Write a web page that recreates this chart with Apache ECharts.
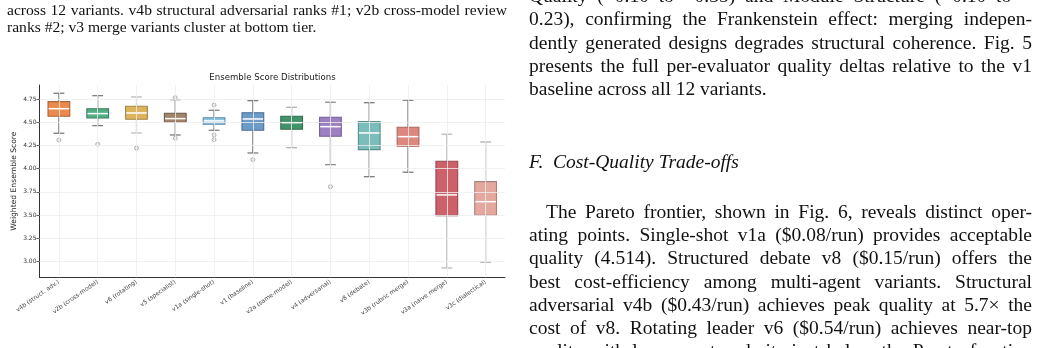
<!DOCTYPE html>
<html><head><meta charset="utf-8">
<script src="https://cdn.jsdelivr.net/npm/echarts@6/dist/echarts.min.js"></script>
<style>
html,body{margin:0;padding:0;background:#fff;width:1041px;height:348px;overflow:hidden;position:relative;}
#chart{position:absolute;left:0;top:0;width:1041px;height:348px;}
.t{position:absolute;font-family:'Liberation Serif','Times New Roman',serif;color:#111;white-space:nowrap;}
</style></head>
<body>
<div id="chart"></div>
<script>
// ---- chart data ----
const categories = ['v4b (struct. adv.)','v2b (cross-model)','v6 (rotating)','v5 (specialist)','v1a (single-shot)','v1 (baseline)','v2a (same-model)','v4 (adversarial)','v8 (debate)','v3b (rubric merge)','v3a (naive merge)','v3c (dialectical)'];
const whiskerLow  = [4.383,4.465,4.386,4.364,4.415,4.170,4.227,4.044,3.914,3.962,2.928,2.990];
const q1Values    = [4.566,4.548,4.534,4.502,4.480,4.415,4.426,4.350,4.206,4.242,3.493,3.497];
const medianValues= [4.648,4.595,4.602,4.541,4.516,4.537,4.497,4.454,4.386,4.346,3.717,3.644];
const q3Values    = [4.724,4.648,4.674,4.599,4.551,4.605,4.566,4.556,4.508,4.448,4.080,3.860];
const whiskerHigh = [4.815,4.789,4.775,4.746,4.631,4.735,4.663,4.718,4.713,4.739,4.372,4.289];
const outlierCategory = [0,1,2,3,3,4,4,4,5,7];
const outlierValue    = [4.310,4.264,4.221,4.767,4.329,4.688,4.364,4.314,4.098,3.806];
const yTicks = [3.00,3.25,3.50,3.75,4.00,4.25,4.50,4.75];
const chartTitle = 'Ensemble Score Distributions';
const yAxisTitle = 'Weighted Ensemble Score';

// ---- styles ----
const fillColors   = ['#EC8A4C','#52AE83','#DDB45C','#A2846A','#8FC3E4','#6D9BC7','#43936A','#9C80C1','#7BBDBB','#DE877F','#CC6169','#E4A89E'];
const borderColors = ['#A8643A','#3E7D60','#A38645','#6F5A48','#5F8CAE','#4B6E93','#326D4F','#75609A','#5A8E8C','#A96560','#98474E','#A98077'];
const whiskerColors= ['#7c7c7c','#808080','#bdbdbd','#7c7c7c','#808080','#7c7c7c','#b0b0b0','#8a8a8a','#7c7c7c','#7c7c7c','#bbbbbb','#b0b0b0'];

const chart = echarts.init(document.getElementById('chart'), null, {renderer:'canvas'});
const boxData = categories.map((c,i)=>[i, whiskerLow[i], q1Values[i], medianValues[i], q3Values[i], whiskerHigh[i]]);
const gridLines = yTicks.map(v=>({yAxis:v})).concat(categories.map(c=>({xAxis:c})));

chart.setOption({
  animation:false,
  graphic:[{type:'text', x:272.5, y:77.5, style:{text:chartTitle, align:'center', verticalAlign:'middle', fontSize:8.6, fontFamily:'DejaVu Sans', fill:'#222'}}],
  grid:{left:39.5, right:536, top:85, bottom:70.7},
  xAxis:{type:'category', data:categories,
    axisLine:{lineStyle:{color:'#333', width:1}},
    axisTick:{alignWithLabel:true, length:3, lineStyle:{color:'#333', width:0.8}},
    axisLabel:{rotate:35, fontSize:6, color:'#444', margin:4, fontFamily:'DejaVu Sans', interval:0},
    splitLine:{show:false}},
  yAxis:{type:'value', min:2.827, max:4.904,
    axisLine:{show:true, lineStyle:{color:'#333', width:1}},
    axisTick:{show:true, length:3, customValues:yTicks, lineStyle:{color:'#333', width:0.8}},
    axisLabel:{customValues:yTicks, formatter:v=>v.toFixed(2), fontSize:6, color:'#333', margin:3, fontFamily:'DejaVu Sans'},
    splitLine:{show:false},
    name:yAxisTitle, nameLocation:'middle', nameGap:21,
    nameTextStyle:{fontSize:7.6, color:'#222', fontFamily:'DejaVu Sans'}},
  series:[
    {type:'scatter', data:[], z:1, silent:true,
     markLine:{silent:true, symbol:['none','none'], label:{show:false}, animation:false,
       lineStyle:{color:'#ededed', width:0.8, type:'solid'}, data:gridLines}},
    {type:'custom', z:2, data:boxData, encode:{x:0, y:[1,2,3,4,5]},
     renderItem:function(params, api){
       const i = api.value(0);
       const band = api.size([1,0])[0];
       const bw = band*0.56, cw = band*0.28;
       const pLo = api.coord([i, api.value(1)]);
       const pQ1 = api.coord([i, api.value(2)]);
       const pMd = api.coord([i, api.value(3)]);
       const pQ3 = api.coord([i, api.value(4)]);
       const pHi = api.coord([i, api.value(5)]);
       const x = pMd[0];
       const wc = whiskerColors[i];
       const ws = {stroke:wc, lineWidth:1.3};
       return {type:'group', children:[
         {type:'line', shape:{x1:x, y1:pQ3[1], x2:x, y2:pHi[1]}, style:ws},
         {type:'line', shape:{x1:x, y1:pQ1[1], x2:x, y2:pLo[1]}, style:ws},
         {type:'line', shape:{x1:x-cw/2, y1:pHi[1], x2:x+cw/2, y2:pHi[1]}, style:ws},
         {type:'line', shape:{x1:x-cw/2, y1:pLo[1], x2:x+cw/2, y2:pLo[1]}, style:ws},
         {type:'rect', shape:{x:x-bw/2, y:pQ3[1], width:bw, height:pQ1[1]-pQ3[1]},
          style:{fill:fillColors[i], stroke:borderColors[i], lineWidth:1.1}},
         {type:'line', shape:{x1:x-bw/2+0.6, y1:pMd[1], x2:x+bw/2-0.6, y2:pMd[1]}, style:{stroke:'#ffffff', lineWidth:1.5}}
       ]};
     }},
    {type:'scatter', z:3, symbol:'circle', symbolSize:4,
     data:outlierCategory.map((c,k)=>[c, outlierValue[k]]),
     itemStyle:{color:'rgba(210,210,210,0.6)', borderColor:'#999', borderWidth:0.9}}
  ]
});

// ---- surrounding page text ----
function place(text, x, baseline, size, width, opts){
  opts = opts || {};
  const s = document.createElement('span');
  s.className = 't';
  s.textContent = text;
  s.style.fontSize = size+'px';
  s.style.lineHeight = size+'px';
  s.style.left = x+'px';
  s.style.top = (baseline - 0.8375*size)+'px';
  if (opts.italic) s.style.fontStyle = 'italic';
  document.body.appendChild(s);
  if (width){
    const nat = s.getBoundingClientRect().width;
    const spaces = (text.match(/ /g)||[]).length;
    if (spaces>0) s.style.wordSpacing = ((width-nat)/spaces)+'px';
  }
  return s;
}
const capSize = 15.6, bodySize = 19.5;
place('across 12 variants. v4b structural adversarial ranks #1; v2b cross-model review', 7, 14.8, capSize, 500);
place('ranks #2; v3 merge variants cluster at bottom tier.', 7, 31.6, capSize, 0);

const colL = 529, colW = 503;
place('Quality (\u22120.10 to \u22120.35) and Module Structure (\u22120.10 to \u2212', colL, 2.5, bodySize, colW);
place('0.23), confirming the Frankenstein effect: merging indepen-', colL, 25.8, bodySize, colW);
place('dently generated designs degrades structural coherence. Fig. 5', colL, 49.1, bodySize, colW);
place('presents the full per-evaluator quality deltas relative to the v1', colL, 72.4, bodySize, colW);
place('baseline across all 12 variants.', colL, 95.7, bodySize, 0);
place('F.\u2002Cost-Quality Trade-offs', colL, 168, bodySize, 0, {italic:true});
place('The Pareto frontier, shown in Fig. 6, reveals distinct oper-', colL+17, 218, bodySize, colW-17);
place('ating points. Single-shot v1a ($0.08/run) provides acceptable', colL, 241.3, bodySize, colW);
place('quality (4.514). Structured debate v8 ($0.15/run) offers the', colL, 264.6, bodySize, colW);
place('best cost-efficiency among multi-agent variants. Structural', colL, 287.9, bodySize, colW);
place('adversarial v4b ($0.43/run) achieves peak quality at 5.7\u00d7 the', colL, 311.2, bodySize, colW);
place('cost of v8. Rotating leader v6 ($0.54/run) achieves near-top', colL, 334.5, bodySize, colW);
place('quality with lower cost and sits just below the Pareto frontier.', colL, 357.8, bodySize, colW);
</script>
</body></html>
